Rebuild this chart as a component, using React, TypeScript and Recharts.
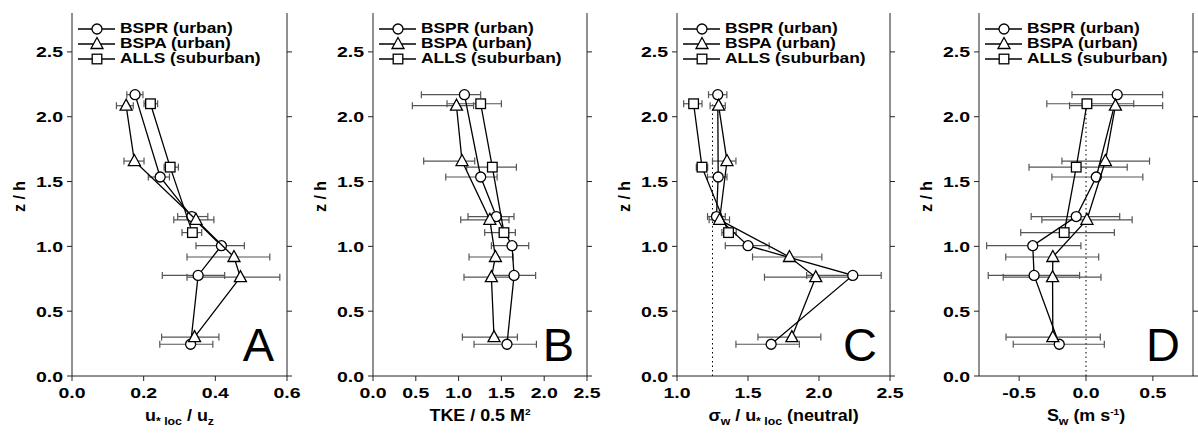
import React from 'react';
import { ScatterChart, Scatter, XAxis, YAxis, ErrorBar, ReferenceLine, Legend } from 'recharts';

const FONT = '"Liberation Sans", Arial, Helvetica, sans-serif';

const seriesNames = ['BSPR (urban)', 'BSPA (urban)', 'ALLS (suburban)'];

// z / h of each measurement level
const zBSPR = [2.17, 1.535, 1.23, 1.005, 0.776, 0.245];
const zBSPA = [2.085, 1.658, 1.205, 0.918, 0.762, 0.3];
const zALLS = [2.1, 1.611, 1.106];
const zTicks = [0, 0.5, 1, 1.5, 2, 2.5];

// panel A: u*loc / uz   (errors as [minus, plus])
const aBSPR = [0.176, 0.246, 0.334, 0.417, 0.352, 0.331];
const aBSPRerr = [[0.023, 0.022], [0.033, 0.026], [0.039, 0.045], [0.071, 0.064], [0.1, 0.074], [0.086, 0.062]];
const aBSPA = [0.151, 0.174, 0.346, 0.452, 0.47, 0.342];
const aBSPAerr = [[0.027, 0.02], [0.029, 0.027], [0.062, 0.05], [0.131, 0.1], [0.149, 0.11], [0.092, 0.068]];
const aALLS = [0.219, 0.274, 0.336];
const aALLSerr = [[0.018, 0.02], [0.017, 0.023], [0.029, 0.026]];
const aTicks = [0, 0.2, 0.4, 0.6];

// panel B: TKE / 0.5 M^2
const bBSPR = [1.068, 1.258, 1.441, 1.624, 1.648, 1.565];
const bBSPRerr = [[0.503, 0.19], [0.408, 0.192], [0.331, 0.206], [0.241, 0.195], [0.253, 0.252], [0.385, 0.344]];
const bBSPA = [0.975, 1.04, 1.365, 1.43, 1.383, 1.414];
const bBSPAerr = [[0.515, 0.2], [0.448, 0.148], [0.34, 0.224], [0.308, 0.206], [0.32, 0.25], [0.37, 0.273]];
const bALLS = [1.258, 1.394, 1.53];
const bALLSerr = [[0.393, 0.242], [0.3, 0.281], [0.225, 0.133]];
const bTicks = [0, 0.5, 1, 1.5, 2, 2.5];

// panel C: sigma_w / u*loc (neutral)
const cBSPR = [1.287, 1.29, 1.278, 1.5, 2.238, 1.663];
const cBSPRerr = [[0.065, 0.064], [0.075, 0.062], [0.063, 0.062], [0.16, 0.149], [0.325, 0.2], [0.248, 0.199]];
const cBSPA = [1.293, 1.352, 1.3, 1.792, 1.977, 1.809];
const cBSPAerr = [[0.06, 0.047], [0.102, 0.063], [0.074, 0.07], [0.26, 0.228], [0.361, 0.25], [0.239, 0.204]];
const cALLS = [1.117, 1.176, 1.363];
const cALLSerr = [[0.07, 0.059], [0.04, 0.04], [0.047, 0.054]];
const cTicks = [1, 1.5, 2, 2.5];

// panel D: Sw (m s-1)
const dBSPR = [0.233, 0.077, -0.073, -0.398, -0.388, -0.2];
const dBSPRerr = [[0.338, 0.34], [0.332, 0.348], [0.337, 0.325], [0.345, 0.36], [0.343, 0.34], [0.344, 0.337]];
const dBSPA = [0.22, 0.145, 0.007, -0.248, -0.25, -0.248];
const dBSPAerr = [[0.343, 0.353], [0.325, 0.33], [0.337, 0.338], [0.352, 0.343], [0.369, 0.362], [0.35, 0.355]];
const dALLS = [0.007, -0.073, -0.163];
const dALLSerr = [[0.3, 0.35], [0.353, 0.381], [0.325, 0.375]];
const dTicks = [-0.5, 0, 0.5];

const rows = (xs: number[], zs: number[], errs: number[][]) =>
  xs.map((x, i) => ({ x, y: zs[i], err: errs[i] }));

const fmt = (v: number) => v.toFixed(1);

const circleShape = (p: any) => (
  <circle cx={p.cx} cy={p.cy} r={5} fill="#fff" stroke="#000" strokeWidth={1.3} />
);
const triangleShape = (p: any) => (
  <polygon
    points={`${p.cx},${p.cy - 6.5} ${p.cx - 6},${p.cy + 4.5} ${p.cx + 6},${p.cy + 4.5}`}
    fill="#fff" stroke="#000" strokeWidth={1.3}
  />
);
const squareShape = (p: any) => (
  <rect x={p.cx - 4.8} y={p.cy - 4.8} width={9.6} height={9.6} fill="#fff" stroke="#000" strokeWidth={1.3} />
);
const shapes = [circleShape, triangleShape, squareShape];

const XTick = (props: any) => (
  <g transform={`translate(${props.x},${props.y})`}>
    <text transform="scale(1.3,1)" textAnchor="middle" dy={13} fontFamily={FONT} fontWeight={700} fontSize={15} fill="#000">
      {fmt(props.payload.value)}
    </text>
  </g>
);

const YTick = (props: any) => (
  <g transform={`translate(${props.x},${props.y})`}>
    <text transform="scale(1.3,1)" textAnchor="end" dy={5.5} fontFamily={FONT} fontWeight={700} fontSize={15} fill="#000">
      {fmt(props.payload.value)}
    </text>
  </g>
);

// tick marks only, no label
const NoLabel = () => <g />;

const XTitle = (props: any) => {
  const { x, y, width } = props.viewBox;
  return (
    <g transform={`translate(${x + width / 2},${y + 45}) scale(1.12,1)`}>
      <text textAnchor="middle" fontFamily={FONT} fontWeight={700} fontSize={16} fill="#000">
        {props.children}
      </text>
    </g>
  );
};

const YTitle = (props: any) => {
  const { x, y, height } = props.viewBox;
  return (
    <text
      transform={`translate(${x + 19},${y + height / 2 + 2}) rotate(-90)`}
      textAnchor="middle" dy={6} fontFamily={FONT} fontWeight={700} fontSize={16} fill="#000"
    >
      z / h
    </text>
  );
};

const titleA = (
  <>
    u<tspan dy={4} fontSize={11}>* loc</tspan>
    <tspan dy={-4}> / u</tspan>
    <tspan dy={4} fontSize={11}>z</tspan>
  </>
);
const titleB = (
  <>
    TKE / 0.5 M<tspan dy={-6} fontSize={9}>2</tspan>
  </>
);
const titleC = (
  <>
    σ<tspan dy={4} fontSize={11}>w</tspan>
    <tspan dy={-4}> / u</tspan>
    <tspan dy={4} fontSize={11}>* loc</tspan>
    <tspan dy={-4}> (neutral)</tspan>
  </>
);
const titleD = (
  <>
    S<tspan dy={4} fontSize={11}>w</tspan>
    <tspan dy={-4}> (m s</tspan>
    <tspan dy={-6} fontSize={9}>-1</tspan>
    <tspan dy={6}>)</tspan>
  </>
);

const panels = [
  {
    letter: 'A', left: 0, plotW: 215, domain: [0, 0.6], ticks: aTicks, topTicks: [0.2, 0.4], refX: null, title: titleA,
    series: [rows(aBSPR, zBSPR, aBSPRerr), rows(aBSPA, zBSPA, aBSPAerr), rows(aALLS, zALLS, aALLSerr)],
  },
  {
    letter: 'B', left: 301, plotW: 214, domain: [0, 2.5], ticks: bTicks, topTicks: [0.5, 1, 1.5, 2], refX: null, title: titleB,
    series: [rows(bBSPR, zBSPR, bBSPRerr), rows(bBSPA, zBSPA, bBSPAerr), rows(bALLS, zALLS, bALLSerr)],
  },
  {
    letter: 'C', left: 605, plotW: 213, domain: [1, 2.5], ticks: cTicks, topTicks: [1, 2.5], refX: 1.25, title: titleC,
    series: [rows(cBSPR, zBSPR, cBSPRerr), rows(cBSPA, zBSPA, cBSPAerr), rows(cALLS, zALLS, cALLSerr)],
  },
  {
    letter: 'D', left: 907, plotW: 214, domain: [-0.8, 0.8], ticks: dTicks, topTicks: [-0.5, 0.5], refX: 0, title: titleD,
    series: [rows(dBSPR, zBSPR, dBSPRerr), rows(dBSPA, zBSPA, dBSPAerr), rows(dALLS, zALLS, dALLSerr)],
  },
];

const LEFT = 72;
const TOP = 13;
const H = 436;
const PLOT_H = 363;

const Overlay = ({ p, w }: { p: any; w: number }) => {
  const rowY = [29, 44, 59];
  return (
    <svg width={w} height={H} style={{ display: 'block' }}>
      {seriesNames.map((name, i) => {
        const Shape = shapes[i];
        return (
          <g key={name}>
            <line x1={LEFT + 6} x2={LEFT + 43} y1={rowY[i]} y2={rowY[i]} stroke="#000" strokeWidth={1.3} />
            {Shape({ cx: LEFT + 25, cy: rowY[i] })}
            <g transform={`translate(${LEFT + 48},${rowY[i] + 4}) scale(1.12,1)`}>
              <text fontFamily={FONT} fontWeight={700} fontSize={15.5} fill="#000">{name}</text>
            </g>
          </g>
        );
      })}
      <text
        x={LEFT + p.plotW - 13} y={TOP + PLOT_H - 15} textAnchor="end"
        fontFamily={FONT} fontSize={47} fill="#000"
      >
        {p.letter}
      </text>
    </svg>
  );
};

const Panel = ({ p }: { p: any }) => {
  const w = LEFT + p.plotW + 8 + 14;
  return (
    <div style={{ position: 'absolute', left: p.left, top: 0 }}>
      <ScatterChart width={w} height={H} margin={{ top: TOP, right: 14, bottom: 0, left: 0 }}>
        <XAxis
          type="number" dataKey="x" domain={p.domain} ticks={p.ticks} allowDataOverflow
          height={60} tickSize={5} tickMargin={4} tick={<XTick />} stroke="#222"
          label={<XTitle>{p.title}</XTitle>}
        />
        <XAxis
          xAxisId="top" orientation="top" type="number" domain={p.domain} ticks={p.topTicks}
          allowDataOverflow height={0} tickSize={12} tick={<NoLabel />} stroke="#222"
        />
        <YAxis
          type="number" dataKey="y" domain={[0, 2.8]} ticks={zTicks} allowDataOverflow
          width={LEFT} tickSize={5} tickMargin={4} tick={<YTick />} stroke="#222"
          label={<YTitle />}
        />
        <YAxis
          yAxisId="right" orientation="right" type="number" domain={[0, 2.8]} ticks={zTicks}
          allowDataOverflow width={8} tickSize={5} tick={<NoLabel />} stroke="#222"
        />
        {p.refX !== null && (
          <ReferenceLine
            segment={[{ x: p.refX, y: 0 }, { x: p.refX, y: 2.1 }]}
            stroke="#000" strokeDasharray="1.5 3" strokeWidth={1}
          />
        )}
        {p.series.map((data: any, i: number) => (
          <Scatter
            key={seriesNames[i]} name={seriesNames[i]} data={data} shape={shapes[i]}
            line={{ stroke: '#000', strokeWidth: 1.3 }} lineType="joint" isAnimationActive={false}
          >
            <ErrorBar dataKey="err" direction="x" width={3.5} stroke="#555" strokeWidth={1.2} isAnimationActive={false} />
          </Scatter>
        ))}
        <Legend
          layout="horizontal" verticalAlign="middle" align="center"
          wrapperStyle={{ position: 'absolute', left: 0, top: 0, width: w, height: H, pointerEvents: 'none' }}
          content={() => <Overlay p={p} w={w} />}
        />
      </ScatterChart>
    </div>
  );
};

export default function App() {
  return (
    <div style={{ position: 'absolute', left: 0, top: 0, width: 1198, height: 436, overflow: 'hidden', background: '#fff' }}>
      {panels.map((p) => (
        <Panel key={p.letter} p={p} />
      ))}
    </div>
  );
}
